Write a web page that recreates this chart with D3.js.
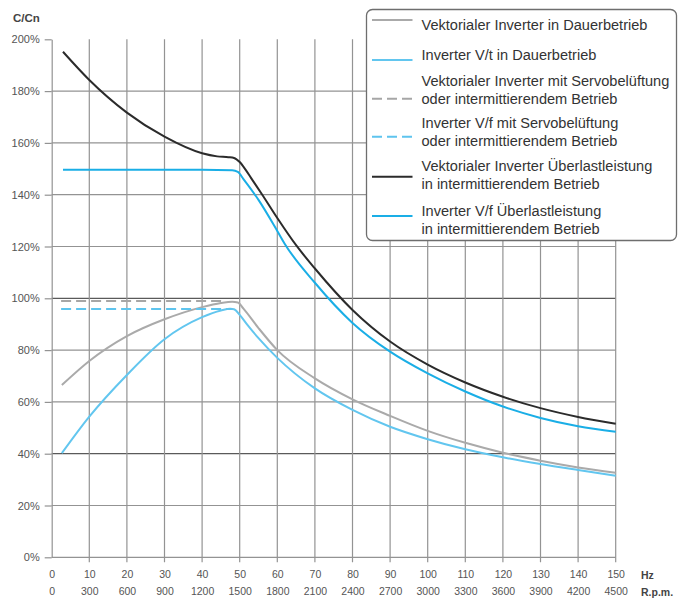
<!DOCTYPE html>
<html>
<head>
<meta charset="utf-8">
<script src="https://cdn.jsdelivr.net/npm/d3@7/dist/d3.min.js"></script>
<style>
  html, body { margin: 0; padding: 0; background: #fff; }
  svg { display: block; }
</style>
</head>
<body>
<svg id="chart" width="686" height="599"></svg>
<script>
// Torque ratio C/Cn (%) versus frequency (Hz), pairs of [Hz, %]
const vectorContinuous = [
  [2.7, 66.5], [10, 75.8], [20, 85.4], [30, 91.9], [40, 96.6], [45, 98.2], [48, 98.7],
  [49.5, 98.4], [51, 96], [55, 88.5], [60, 80], [70, 69.1], [80, 61], [90, 54.6],
  [100, 48.8], [110, 44.2], [120, 40.4], [130, 37.3], [140, 34.7], [150, 32.6]
];
const vfContinuous = [
  [2.7, 40.2], [10, 54.3], [20, 70.4], [30, 84.2], [40, 92.7], [45, 95.3], [47.5, 96],
  [48.5, 95.8], [50, 93.6], [52, 89.8], [55, 84.6], [60, 77], [70, 65.2], [80, 56.9],
  [90, 50.4], [100, 45.6], [110, 41.7], [120, 38.6], [130, 36], [140, 33.7], [150, 31.5]
];
const vectorServo = [[2.5, 99], [46, 99]];
const vfServo = [[2.5, 95.9], [48, 95.9]];
const vectorOverload = [
  [3, 195.2], [10, 184.3], [20, 171.7], [30, 162.4], [40, 156], [44, 154.8], [47, 154.5],
  [48.5, 154.2], [50, 152.6], [51.5, 149.8], [53, 146.5], [56, 140], [60, 131], [65, 120.5],
  [70, 111.5], [80, 95.5], [90, 83.3], [100, 74.4], [110, 67.5], [120, 62], [130, 57.6],
  [140, 54.2], [150, 51.6]
];
const vfOverload = [
  [3, 149.6], [20, 149.6], [40, 149.6], [48, 149.4], [49.5, 148.8], [51, 146], [55, 138],
  [60, 126], [62, 121], [70, 106], [80, 90.5], [90, 79.4], [100, 71], [110, 64],
  [120, 58.2], [130, 53.8], [140, 50.6], [150, 48.5]
];

// Axis ticks
const yTicks = [0, 20, 40, 60, 80, 100, 120, 140, 160, 180, 200];
const hzTicks = [0, 10, 20, 30, 40, 50, 60, 70, 80, 90, 100, 110, 120, 130, 140, 150];
const rpmLabels = ["0", "300", "600", "900", "1200", "1500", "1800", "2100", "2400", "2700",
                   "3000", "3300", "3600", "3900", "4200", "4500"];

// Legend entries
const legendLabels = [
  ["Vektorialer Inverter in Dauerbetrieb"],
  ["Inverter V/t in Dauerbetrieb"],
  ["Vektorialer Inverter mit Servobelüftung", "oder intermittierendem Betrieb"],
  ["Inverter V/f mit Servobelüftung", "oder intermittierendem Betrieb"],
  ["Vektorialer Inverter Überlastleistung", "in intermittierendem Betrieb"],
  ["Inverter V/f Überlastleistung", "in intermittierendem Betrieb"]
];

const svg = d3.select("#chart");
const x = d3.scaleLinear().domain([0, 150]).range([51.7, 615.7]);
const y = d3.scaleLinear().domain([0, 200]).range([557.3, 39.3]);

const labelFont = "'Liberation Sans', Arial, Helvetica, sans-serif";

// Grid
const grid = svg.append("g");
grid.selectAll("line.h")
  .data(yTicks.filter(d => d > 0 && d < 200))
  .join("line")
  .attr("x1", x(0)).attr("x2", x(150))
  .attr("y1", d => y(d)).attr("y2", d => y(d))
  .attr("stroke", d => (d === 100 || d === 40) ? "#5a5a5a" : "#939393")
  .attr("stroke-width", 1.2);
grid.selectAll("line.v")
  .data(hzTicks.filter(d => d > 0))
  .join("line")
  .attr("x1", d => x(d)).attr("x2", d => x(d))
  .attr("y1", y(200)).attr("y2", y(0) + 5)
  .attr("stroke", "#939393")
  .attr("stroke-width", 1.2);

// Y axis
const yAxis = svg.append("g")
  .attr("transform", `translate(${x(0)},0)`)
  .call(d3.axisLeft(y).tickValues(yTicks).tickFormat(d => d + "%").tickSize(7).tickPadding(5).tickSizeOuter(0));
yAxis.select(".domain").attr("stroke", "#939393").attr("stroke-width", 1.2);
yAxis.selectAll(".tick line").attr("stroke", "#939393").attr("stroke-width", 1.2);
yAxis.selectAll(".tick text").attr("fill", "#555").style("font", `11px ${labelFont}`);

// X axis baseline (0%)
svg.append("line")
  .attr("x1", x(0)).attr("x2", x(150))
  .attr("y1", y(0)).attr("y2", y(0))
  .attr("stroke", "#939393").attr("stroke-width", 1.2);

// X axis rows: Hz and R.p.m.
const hzAxis = svg.append("g")
  .attr("transform", `translate(0,${y(0)})`)
  .call(d3.axisBottom(x).tickValues(hzTicks).tickSize(0).tickPadding(13));
hzAxis.select(".domain").remove();
hzAxis.selectAll(".tick text").attr("fill", "#555").style("font", `10.5px ${labelFont}`);

const rpmAxis = svg.append("g")
  .attr("transform", `translate(0,${y(0)})`)
  .call(d3.axisBottom(x).tickValues(hzTicks).tickFormat((d, i) => rpmLabels[i]).tickSize(0).tickPadding(30));
rpmAxis.select(".domain").remove();
rpmAxis.selectAll(".tick text").attr("fill", "#555").style("font", `10.5px ${labelFont}`);

svg.append("text").attr("x", 641).attr("y", 578.5)
  .attr("fill", "#444").style("font", `bold 10.5px ${labelFont}`).text("Hz");
svg.append("text").attr("x", 641).attr("y", 595.5)
  .attr("fill", "#444").style("font", `bold 10.5px ${labelFont}`).text("R.p.m.");
svg.append("text").attr("x", 13).attr("y", 21.5)
  .attr("fill", "#444").style("font", `bold 11.5px ${labelFont}`).text("C/Cn");

// Curves
const line = d3.line().x(d => x(d[0])).y(d => y(d[1])).curve(d3.curveMonotoneX);
const styles = [
  { data: vectorContinuous, color: "#aaaaaa", dash: null, width: 2 },
  { data: vfContinuous, color: "#62c6ef", dash: null, width: 2 },
  { data: vectorServo, color: "#a6a6a6", dash: "10,5", width: 2 },
  { data: vfServo, color: "#5ec4ee", dash: "10,5", width: 2 },
  { data: vectorOverload, color: "#2b2b2b", dash: null, width: 2 },
  { data: vfOverload, color: "#1aaee6", dash: null, width: 2 }
];
svg.append("g").selectAll("path")
  .data(styles)
  .join("path")
  .attr("d", d => line(d.data))
  .attr("fill", "none")
  .attr("stroke", d => d.color)
  .attr("stroke-width", d => d.width)
  .attr("stroke-dasharray", d => d.dash);

// Legend
const legend = svg.append("g");
legend.append("rect")
  .attr("x", 366.5).attr("y", 9.5).attr("width", 310).attr("height", 231)
  .attr("rx", 6).attr("ry", 6)
  .attr("fill", "#fff").attr("stroke", "#6e6e6e").attr("stroke-width", 1.3);

// condensed lettering: each line is narrowed horizontally so the widest spans 248px
const legendFont = `15.2px ${labelFont}`;
const probe = legend.append("text").style("font", legendFont).text(legendLabels[2][0]);
const squeeze = Math.min(1, 248 / probe.node().getComputedTextLength());
probe.remove();

const baselines = [[30], [59.5], [86, 103.5], [128, 145.5], [171, 188.5], [216, 233.5]];
const sampleY = [20, 60, 98.7, 136.7, 176.7, 216];
legendLabels.forEach((lines, i) => {
  const s = styles[i];
  legend.append("line")
    .attr("x1", 372).attr("x2", 412.5)
    .attr("y1", sampleY[i]).attr("y2", sampleY[i])
    .attr("stroke", s.color).attr("stroke-width", s.width)
    .attr("stroke-dasharray", s.dash);
  lines.forEach((t, j) => {
    legend.append("text")
      .attr("transform", `translate(421.5,${baselines[i][j]}) scale(${squeeze},1)`)
      .attr("fill", "#333")
      .style("font", legendFont)
      .text(t);
  });
});
</script>
</body>
</html>
